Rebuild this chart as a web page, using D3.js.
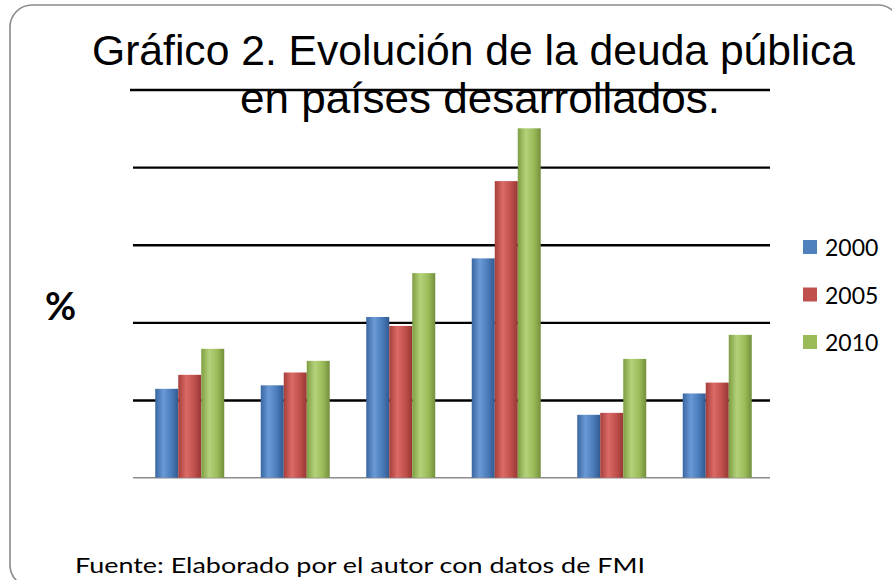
<!DOCTYPE html>
<html>
<head>
<meta charset="utf-8">
<script src="https://cdn.jsdelivr.net/npm/d3@7"></script>
<style>
  html, body { margin: 0; padding: 0; background: #fff; }
  svg { display: block; }
</style>
</head>
<body>
<svg id="chart" width="892" height="580"></svg>
<script>
// ---- data ----
const categories = ["G1", "G2", "G3", "G4", "G5", "G6"];
const seriesNames = ["2000", "2005", "2010"];
const values2000 = [22.9, 23.8, 41.4, 56.5, 16.2, 21.7];
const values2005 = [26.5, 27.1, 39.1, 76.4, 16.7, 24.5];
const values2010 = [33.2, 30.1, 52.7, 90.0, 30.6, 36.8];
const gridTicks = [20, 40, 60, 80, 100];
const colors = ["#4F81BD", "#C0504D", "#9BBB59"];
const titleLines = ["Gráfico 2. Evolución de la deuda pública", "en países desarrollados."];
const sourceText = "Fuente: Elaborado por el autor con datos de FMI";

const seriesValues = [values2000, values2005, values2010];

const svg = d3.select("#chart");

// frame
svg.append("rect")
  .attr("x", 10).attr("y", 5)
  .attr("width", 890).attr("height", 582)
  .attr("rx", 22).attr("ry", 22)
  .attr("fill", "none")
  .attr("stroke", "#8a8a8a")
  .attr("stroke-width", 1.6);

// gradients for cylinder look
const defs = svg.append("defs");
const shades = [
  ["#3a66a0", "#6a9ad6", "#4a7cbb", "#33598f"],
  ["#a53e3b", "#dc6a66", "#c0504d", "#963734"],
  ["#7f9e42", "#b4d27a", "#9bbb59", "#738f3c"]
];
shades.forEach((s, i) => {
  const g = defs.append("linearGradient").attr("id", "grad" + i)
    .attr("x1", "0%").attr("x2", "100%").attr("y1", "0%").attr("y2", "0%");
  g.append("stop").attr("offset", "0%").attr("stop-color", s[0]);
  g.append("stop").attr("offset", "35%").attr("stop-color", s[1]);
  g.append("stop").attr("offset", "70%").attr("stop-color", s[2]);
  g.append("stop").attr("offset", "100%").attr("stop-color", s[3]);
});

// scales
const x = d3.scaleBand().domain(categories).range([137, 770])
  .paddingInner(0.346).paddingOuter(0.173);
const xs = d3.scaleBand().domain(seriesNames).range([0, x.bandwidth()]);
const y = d3.scaleLinear().domain([0, 100]).range([477.7, 89.5]);

// gridlines via axis
const grid = svg.append("g").attr("transform", "translate(133,0)")
  .call(d3.axisLeft(y).tickValues(gridTicks).tickSize(-637).tickFormat(""));
grid.select(".domain").remove();
grid.selectAll(".tick line").attr("stroke", "#000").attr("stroke-width", 2.4);
grid.selectAll(".tick").filter(d => d === 100).select("line")
  .attr("x1", -3);

// baseline
svg.append("line")
  .attr("x1", 133).attr("x2", 770)
  .attr("y1", y(0)).attr("y2", y(0))
  .attr("stroke", "#8c8c8c").attr("stroke-width", 1.5);

// bars
const groups = svg.append("g").selectAll("g")
  .data(categories).join("g")
  .attr("transform", d => `translate(${x(d)},0)`);

groups.selectAll("rect")
  .data((d, gi) => seriesNames.map((s, si) => ({ s, si, v: seriesValues[si][gi] })))
  .join("rect")
  .attr("x", d => xs(d.s))
  .attr("width", xs.bandwidth())
  .attr("y", d => y(d.v))
  .attr("height", d => y(0) - y(d.v))
  .attr("fill", d => `url(#grad${d.si})`);

// title
const title = svg.append("g")
  .attr("font-family", "'Liberation Sans Narrow', 'Liberation Sans', Arial, sans-serif")
  .attr("font-size", 42)
  .attr("fill", "#000");
title.append("text").attr("x", 92).attr("y", 65)
  .attr("textLength", 763).attr("lengthAdjust", "spacingAndGlyphs")
  .text(titleLines[0]);
title.append("text").attr("x", 240).attr("y", 113)
  .attr("textLength", 480).attr("lengthAdjust", "spacingAndGlyphs")
  .text(titleLines[1]);

// y label
svg.append("text")
  .attr("x", 45).attr("y", 320)
  .attr("font-family", "Lato, 'Open Sans', sans-serif")
  .attr("font-weight", "bold")
  .attr("font-size", 38)
  .attr("fill", "#000")
  .text("%");

// legend
const legend = svg.append("g").selectAll("g")
  .data(seriesNames).join("g")
  .attr("transform", (d, i) => `translate(803,${240 + i * 47.5})`);
legend.append("rect")
  .attr("width", 14).attr("height", 14)
  .attr("fill", (d, i) => colors[i]);
legend.append("text")
  .attr("x", 22).attr("y", 16)
  .attr("font-family", "Lato, 'Open Sans', sans-serif")
  .attr("font-size", 23)
  .attr("fill", "#000")
  .text(d => d);

// source
svg.append("text")
  .attr("x", 75).attr("y", 573)
  .attr("font-family", "Lato, 'Open Sans', sans-serif")
  .attr("font-size", 22)
  .attr("textLength", 570).attr("lengthAdjust", "spacingAndGlyphs")
  .attr("fill", "#000")
  .text(sourceText);
</script>
</body>
</html>
